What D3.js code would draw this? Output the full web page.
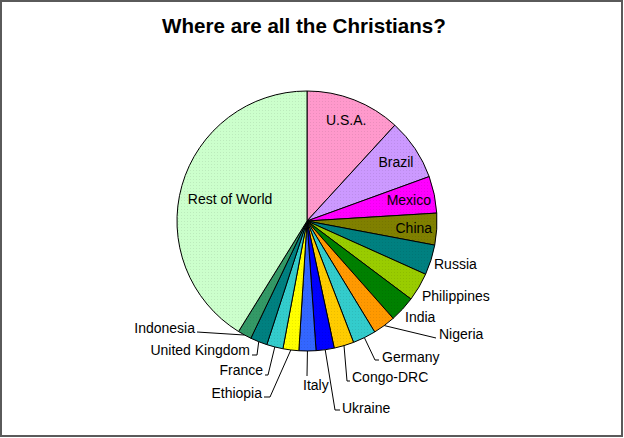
<!DOCTYPE html>
<html>
<head>
<meta charset="utf-8">
<script src="https://cdn.jsdelivr.net/npm/d3@7"></script>
<style>
  html, body { margin: 0; padding: 0; background: #fff; }
  svg { display: block; font-family: Arial, "Liberation Sans", sans-serif; }
</style>
</head>
<body>
<svg id="chart" width="624" height="438"></svg>
<script>
// ---- data ----
const countries = ["U.S.A.", "Brazil", "Mexico", "China", "Russia", "Philippines", "India",
  "Nigeria", "Germany", "Congo-DRC", "Ukraine", "Italy", "Ethiopia", "France",
  "United Kingdom", "Indonesia", "Rest of World"];
const shares = [11.81, 7.64, 4.58, 3.94, 3.75, 3.53, 3.22, 2.81, 2.89, 2.47, 2.25, 2.11,
  1.97, 2.03, 2.11, 1.72, 41.17];
const colors = ["#ff99cc", "#cc99ff", "#ff00ff", "#808000", "#008080", "#99cc00", "#008000",
  "#ff9900", "#33cccc", "#ffcc00", "#0000ff", "#3366ff", "#ffff00", "#33cccc",
  "#008080", "#339966", "#ccffcc"];
const title = "Where are all the Christians?";

// ---- label layout (text position, anchor, leader elbow) ----
const labelLayout = [
  {type: "in", r: 108},
  {type: "in", r: 107},
  {type: "in", r: 104},
  {type: "in", r: 107},
  {type: "out", x: 434, y: 269, anchor: "start"},
  {type: "out", x: 422, y: 301, anchor: "start"},
  {type: "out", x: 405, y: 322, anchor: "start"},
  {type: "out", x: 439, y: 339, anchor: "start", leader: [[436, 338]]},
  {type: "out", x: 382, y: 362, anchor: "start", leader: [[375, 360], [379, 360]]},
  {type: "out", x: 352, y: 382, anchor: "start", leader: [[347, 381], [350, 381]]},
  {type: "out", x: 342, y: 413, anchor: "start", leader: [[335, 410], [340, 410]]},
  {type: "out", x: 303, y: 390, anchor: "start", leader: [[307, 376]]},
  {type: "out", x: 262, y: 398, anchor: "end", leader: [[270, 397], [264, 397]]},
  {type: "out", x: 263, y: 375, anchor: "end", leader: [[268, 375], [265, 375]]},
  {type: "out", x: 250, y: 355, anchor: "end", leader: [[257, 355], [252, 355]]},
  {type: "out", x: 195, y: 333, anchor: "end", leader: [[197, 332]]},
  {type: "in", r: 80}
];

const W = 624, H = 438;
const cx = 307, cy = 221, R = 130;

const svg = d3.select("#chart");

// frame
svg.append("rect")
  .attr("x", 1).attr("y", 1).attr("width", W - 3).attr("height", H - 3)
  .attr("fill", "#fff").attr("stroke", "#5a5a5a").attr("stroke-width", 2);

// title
svg.append("text")
  .attr("x", 304).attr("y", 33)
  .attr("text-anchor", "middle")
  .attr("font-size", 20.6).attr("font-weight", "bold")
  .attr("fill", "#000")
  .text(title);

const data = countries.map((c, i) => ({name: c, value: shares[i], color: colors[i], layout: labelLayout[i]}));

const pie = d3.pie().sort(null).value(d => d.value).startAngle(0).endAngle(2 * Math.PI);
const arcs = pie(data);
const arc = d3.arc().innerRadius(0).outerRadius(R);

const g = svg.append("g").attr("transform", `translate(${cx},${cy})`);

// dotted texture pattern
const defs = svg.append("defs");
const pat = defs.append("pattern").attr("id", "dots").attr("patternUnits", "userSpaceOnUse")
  .attr("width", 3).attr("height", 3);
pat.append("rect").attr("x", 0).attr("y", 0).attr("width", 1).attr("height", 1)
  .attr("fill", "#000").attr("opacity", 0.08);

g.selectAll("path.slice").data(arcs).enter().append("path")
  .attr("class", "slice")
  .attr("d", arc)
  .attr("fill", d => d.data.color)
  .attr("stroke", "#000").attr("stroke-width", 1).attr("stroke-linejoin", "round");

g.selectAll("path.tex").data(arcs).enter().append("path")
  .attr("class", "tex")
  .attr("d", arc)
  .attr("fill", "url(#dots)")
  .attr("stroke", "none");

function pointAt(angle, r) {
  return [cx + r * Math.sin(angle), cy - r * Math.cos(angle)];
}

// leader lines
arcs.forEach(a => {
  const L = a.data.layout;
  if (L.type === "out" && L.leader) {
    const mid = (a.startAngle + a.endAngle) / 2;
    const pts = [pointAt(mid, R)].concat(L.leader);
    svg.append("path")
      .attr("d", d3.line()(pts))
      .attr("fill", "none").attr("stroke", "#000").attr("stroke-width", 1);
  }
});

// labels
arcs.forEach(a => {
  const L = a.data.layout;
  const mid = (a.startAngle + a.endAngle) / 2;
  let x, y, anchor;
  if (L.type === "in") {
    const p = pointAt(mid, L.r);
    x = p[0]; y = p[1] + 5; anchor = "middle";
  } else {
    x = L.x; y = L.y; anchor = L.anchor;
  }
  svg.append("text")
    .attr("x", x).attr("y", y)
    .attr("text-anchor", anchor)
    .attr("font-size", 14)
    .attr("fill", "#000")
    .text(a.data.name);
});
</script>
</body>
</html>
